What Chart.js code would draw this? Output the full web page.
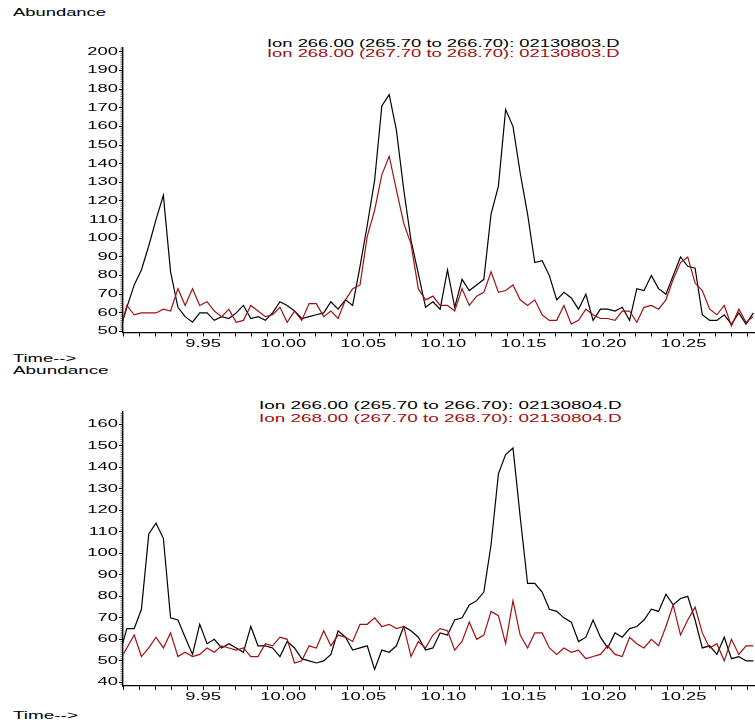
<!DOCTYPE html>
<html>
<head>
<meta charset="utf-8">
<script src="https://cdn.jsdelivr.net/npm/chart.js@4.4.1/dist/chart.umd.min.js"></script>
<style>
  body { margin: 0; background: #fff; }
  #page { position: relative; width: 755px; height: 723px; overflow: hidden; }
  canvas { position: absolute; left: 0; }
  .lbl {
    position: absolute; white-space: nowrap;
    font-family: "Liberation Sans", Arial, sans-serif; font-size: 10.5px; line-height: 12px;
    transform-origin: left top; color: #000;
  }
  .red { color: #a01010; }
</style>
</head>
<body>
<div id="page">
  <div class="lbl" style="left:12.7px; top:6px; transform:scaleX(1.75)">Abundance</div>
  <div class="lbl" style="left:267px; top:37px; transform:scaleX(1.75)">Ion 266.00 (265.70 to 266.70): 02130803.D</div>
  <div class="lbl red" style="left:267px; top:46.5px; transform:scaleX(1.75)">Ion 268.00 (267.70 to 268.70): 02130803.D</div>
  <div class="lbl" style="left:12.7px; top:351.5px; transform:scaleX(1.75)">Time--&gt;</div>
  <canvas id="top" width="755" height="360" style="top:0"></canvas>

  <div class="lbl" style="left:12.7px; top:364px; transform:scaleX(1.8)">Abundance</div>
  <div class="lbl" style="left:259px; top:399px; transform:scaleX(1.8)">Ion 266.00 (265.70 to 266.70): 02130804.D</div>
  <div class="lbl red" style="left:259px; top:411.5px; transform:scaleX(1.8)">Ion 268.00 (267.70 to 268.70): 02130804.D</div>
  <div class="lbl" style="left:12.7px; top:709px; transform:scaleX(1.8)">Time--&gt;</div>
  <canvas id="bottom" width="755" height="363" style="top:360px"></canvas>
</div>
<script>
// scan times (min), shared by both runs
const scanTimes = [
  9.8979, 9.9024, 9.9070, 9.9115, 9.9161, 9.9206, 9.9252, 9.9297, 9.9343, 9.9388,
  9.9434, 9.9479, 9.9525, 9.9570, 9.9616, 9.9661, 9.9707, 9.9752, 9.9798, 9.9843,
  9.9889, 9.9934, 9.9980, 10.0025, 10.0071, 10.0116, 10.0162, 10.0207, 10.0253, 10.0298,
  10.0343, 10.0389, 10.0434, 10.0480, 10.0525, 10.0571, 10.0616, 10.0662, 10.0707, 10.0753,
  10.0798, 10.0844, 10.0889, 10.0935, 10.0980, 10.1026, 10.1071, 10.1117, 10.1162, 10.1208,
  10.1253, 10.1298, 10.1344, 10.1389, 10.1435, 10.1480, 10.1526, 10.1571, 10.1617, 10.1662,
  10.1708, 10.1753, 10.1799, 10.1844, 10.1890, 10.1935, 10.1981, 10.2026, 10.2072, 10.2117,
  10.2163, 10.2208, 10.2253, 10.2299, 10.2344, 10.2390, 10.2435, 10.2481, 10.2526, 10.2572,
  10.2617, 10.2663, 10.2708, 10.2754, 10.2799, 10.2845, 10.2890, 10.2936
];

// 02130803.D
const ion266_803 = [
  50, 63, 75, 83, 96, 110, 123, 82, 63, 58,
  55, 60, 60, 56, 58, 57, 60, 64, 57, 58,
  56, 60, 66, 64, 61, 57, 58, 59, 60, 66,
  62, 67, 64, 85, 107, 131, 171, 177, 158, 126,
  99, 81, 63, 66, 62, 83, 63, 78, 72, 75,
  78, 113, 128, 169, 160, 135, 113, 87, 88, 80,
  67, 71, 68, 62, 70, 56, 62, 62, 61, 63,
  56, 73, 72, 80, 73, 70, 80, 90, 85, 84,
  59, 56, 56, 59, 54, 60, 54, 60
];
const ion268_803 = [
  50, 64, 59, 60, 60, 60, 62, 61, 73, 64,
  73, 64, 66, 61, 58, 62, 55, 56, 64, 61,
  58, 59, 63, 55, 61, 56, 65, 65, 58, 61,
  57, 67, 73, 75, 101, 115, 134, 144, 126, 108,
  97, 73, 67, 69, 64, 64, 61, 73, 64, 69,
  71, 82, 71, 72, 75, 67, 64, 67, 59, 56,
  56, 64, 54, 56, 62, 59, 57, 57, 56, 61,
  61, 55, 63, 64, 62, 67, 78, 87, 90, 76,
  72, 62, 59, 64, 53, 62, 55, 58
];

// 02130804.D
const ion266_804 = [
  53, 65, 65, 74, 109, 114, 107, 70, 69, 61,
  53, 67, 58, 60, 56, 58, 56, 54, 66, 57,
  57, 56, 52, 59, 56, 51, 50, 49, 50, 53,
  64, 61, 55, 56, 57, 46, 55, 54, 57, 66,
  64, 61, 55, 56, 63, 62, 69, 70, 76, 78,
  82, 104, 137, 146, 149, 117, 86, 86, 82, 74,
  73, 70, 68, 59, 61, 69, 61, 56, 63, 61,
  65, 66, 69, 74, 73, 81, 76, 79, 80, 69,
  56, 57, 53, 61, 51, 52, 50, 50
];
const ion268_804 = [
  50, 56, 62, 52, 56, 61, 56, 63, 52, 54,
  52, 53, 56, 54, 57, 56, 55, 56, 52, 52,
  58, 57, 61, 60, 49, 50, 57, 56, 64, 57,
  62, 61, 59, 67, 67, 70, 66, 67, 65, 66,
  52, 59, 56, 62, 65, 64, 55, 59, 68, 60,
  62, 73, 71, 58, 78, 62, 56, 63, 63, 56,
  53, 56, 54, 55, 51, 52, 53, 57, 53, 52,
  61, 58, 56, 60, 57, 66, 76, 62, 69, 75,
  63, 56, 58, 50, 60, 53, 57, 57
];

const timeMin = 9.900, timeMax = 10.2946;
const timeLabelStep = 0.05;

const BLACK = '#000000';
const RED = '#a01010';
const TICK_FONT = { family: '"Liberation Sans", Arial, sans-serif', size: 10.5 };

// the printout uses a horizontally stretched font, so widen canvas text
function wideTextPlugin(sx) {
  return {
    id: 'wideText',
    beforeInit(chart) {
      const ctx = chart.ctx;
      const fill = ctx.fillText.bind(ctx);
      const measure = ctx.measureText.bind(ctx);
      ctx.fillText = function (text, x, y) {
        ctx.save();
        ctx.translate(x, y);
        ctx.scale(sx, 1);
        fill(text, 0, 0);
        ctx.restore();
      };
      ctx.measureText = function (text) {
        const m = measure(text);
        return { width: m.width * sx };
      };
    }
  };
}

// small unit ticks along the abundance axis
const minorTicks = {
  id: 'minorTicks',
  afterDraw(chart) {
    const y = chart.scales.y;
    const ctx = chart.ctx;
    ctx.save();
    ctx.strokeStyle = '#333';
    ctx.lineWidth = 0.8;
    ctx.beginPath();
    for (let v = Math.ceil(y.min); v <= y.max; v++) {
      if (v % 10 === 0) continue;
      const py = y.getPixelForValue(v);
      ctx.moveTo(y.right - 2.5, py);
      ctx.lineTo(y.right - 0.5, py);
    }
    ctx.stroke();
    ctx.restore();
  }
};

function isMultiple(v, step) {
  const r = v / step;
  return Math.abs(r - Math.round(r)) < 1e-6;
}

function makeChart(id, black, red, yMin, yMax, padTop, xAxisHeight) {
  const ctx = document.getElementById(id).getContext('2d');
  return new Chart(ctx, {
    type: 'line',
    data: {
      labels: scanTimes,
      datasets: [{
        label: 'Ion 266.00',
        data: black,
        borderColor: BLACK,
        borderWidth: 1.2,
        pointRadius: 0,
        tension: 0,
        order: 1
      }, {
        label: 'Ion 268.00',
        data: red,
        borderColor: RED,
        borderWidth: 1.2,
        pointRadius: 0,
        tension: 0,
        order: 0
      }]
    },
    options: {
      responsive: false,
      animation: false,
      layout: { padding: { top: padTop, left: 0, right: 0, bottom: 0 } },
      plugins: { legend: { display: false }, tooltip: { enabled: false } },
      scales: {
        x: {
          type: 'linear',
          min: timeMin,
          max: timeMax,
          afterFit: function (s) { s.height = xAxisHeight; },
          border: { color: BLACK, width: 1.2 },
          grid: {
            drawOnChartArea: false,
            tickLength: 4,
            tickColor: function (c) {
              return c.tick && isMultiple(c.tick.value, 0.01) ? BLACK : 'rgba(0,0,0,0)';
            }
          },
          ticks: {
            stepSize: 0.01,
            includeBounds: false,
            autoSkip: false,
            maxRotation: 0,
            padding: 1,
            color: BLACK,
            font: TICK_FONT,
            callback: function (v) {
              if (v < timeMin + 0.001) return '';
              return isMultiple(v, timeLabelStep) ? v.toFixed(2) : '';
            }
          }
        },
        y: {
          min: yMin,
          max: yMax,
          afterFit: function (s) { s.width = 123; },
          border: { color: BLACK, width: 1.4 },
          grid: {
            drawOnChartArea: false,
            tickLength: 4,
            tickColor: function (c) {
              return c.tick && isMultiple(c.tick.value, 10) ? BLACK : 'rgba(0,0,0,0)';
            }
          },
          ticks: {
            stepSize: 10,
            includeBounds: false,
            autoSkip: false,
            padding: 1,
            color: BLACK,
            font: TICK_FONT,
            callback: function (v) { return isMultiple(v, 10) ? Math.round(v) : ''; }
          }
        }
      }
    },
    plugins: [wideTextPlugin(1.75), minorTicks]
  });
}

makeChart('top', ion266_803, ion268_803, 49.5, 202, 48, 27.5);
makeChart('bottom', ion266_804, ion268_804, 38.3, 165.9, 51.7, 37);
</script>
</body>
</html>
